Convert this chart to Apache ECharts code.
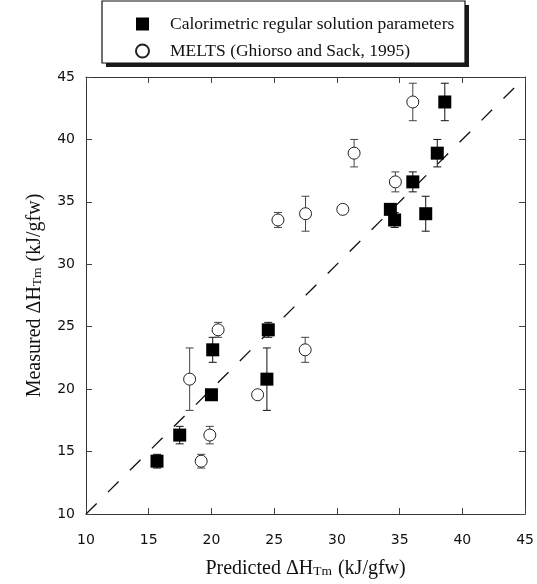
<!DOCTYPE html>
<html>
<head>
<meta charset="utf-8">
<script src="https://cdn.jsdelivr.net/npm/echarts@6/dist/echarts.min.js"></script>
<style>
html,body{margin:0;padding:0;background:#fff;}
#chart{width:537px;height:584px;}
</style>
</head>
<body>
<div id="chart"></div>
<script>
// ---- data ----
var seriesNames = ['Calorimetric regular solution parameters', 'MELTS (Ghiorso and Sack, 1995)'];
// Measured ΔHTm (kJ/gfw), shared by both predictions
var measured = [43.0, 38.9, 36.6, 34.4, 33.55, 34.05, 24.75, 23.15, 20.8, 19.55, 16.32, 14.23];
// Error (±) on measured values; 0 = no bar drawn
var measuredErr = [1.5, 1.1, 0.8, 0, 0.6, 1.4, 0.6, 1.0, 2.5, 0, 0.7, 0.55];
// Predicted ΔHTm, calorimetric regular solution parameters
var predCalorimetric = [38.6, 38.0, 36.05, 34.26, 34.6, 37.08, 24.53, 20.1, 24.42, 20.0, 17.47, 15.66];
// Predicted ΔHTm, MELTS
var predMelts = [36.05, 31.37, 34.66, 30.47, 25.3, 27.5, 20.53, 27.47, 18.26, 23.68, 19.87, 19.18];
// 1:1 line ends
var oneToOne = [10, 45];
// axis ticks
var axisMin = 10, axisMax = 45, axisStep = 5;

function pts(xs) {
  return xs.map(function (x, i) { return [x, measured[i], measuredErr[i]]; });
}

function errBar(color, lw) {
  return function (params, api) {
    var x = api.value(0), y = api.value(1), e = api.value(2);
    if (!e) return;
    var t = api.coord([x, y + e]), b = api.coord([x, y - e]);
    var w = 4;
    var st = { stroke: color, lineWidth: lw };
    return {
      type: 'group',
      children: [
        { type: 'line', shape: { x1: t[0], y1: t[1], x2: b[0], y2: b[1] }, style: st },
        { type: 'line', shape: { x1: t[0] - w, y1: t[1], x2: t[0] + w, y2: t[1] }, style: st },
        { type: 'line', shape: { x1: b[0] - w, y1: b[1], x2: b[0] + w, y2: b[1] }, style: st }
      ]
    };
  };
}

var chart = echarts.init(document.getElementById('chart'), null, { renderer: 'canvas' });

var serif = '"Liberation Serif", "Times New Roman", serif';
var sans = '"DejaVu Sans", Verdana, sans-serif';

function axisBase(pos, showLabel) {
  return {
    type: 'value',
    position: pos,
    min: axisMin, max: axisMax, interval: axisStep,
    axisLine: { show: true, onZero: false, lineStyle: { color: '#333', width: 1 } },
    axisTick: { show: true, inside: true, length: 6, lineStyle: { color: '#444', width: 1 } },
    axisLabel: { show: showLabel, fontFamily: sans, fontSize: 14, color: '#111' },
    splitLine: { show: false }
  };
}

var titleRich = {
  m: { fontFamily: serif, fontSize: 20, color: '#111', verticalAlign: 'bottom', lineHeight: 22 },
  s: { fontFamily: serif, fontSize: 13.5, color: '#111', verticalAlign: 'bottom', lineHeight: 22, padding: [0, 1, 1, 0] }
};

var xBottom = axisBase('bottom', true);
xBottom.name = '{m|Predicted ΔH}{s|Tm}{m| (kJ/gfw)}';
xBottom.nameLocation = 'middle';
xBottom.nameGap = 43;
xBottom.nameTextStyle = { rich: titleRich };
xBottom.axisLabel.margin = 19;
var xTop = axisBase('top', false);

var yLeft = axisBase('left', true);
yLeft.name = '{m|Measured ΔH}{s|Tm}{m| (kJ/gfw)}';
yLeft.nameLocation = 'middle';
yLeft.nameGap = 41;
yLeft.nameTextStyle = { rich: titleRich };
yLeft.axisLabel.margin = 11;
var yRight = axisBase('right', false);

var option = {
  backgroundColor: '#fff',
  animation: false,
  graphic: [
    { type: 'rect', z: 0, shape: { x: 106, y: 5, width: 363, height: 62 }, style: { fill: '#1a1a1a' } },
    { type: 'rect', z: 1, shape: { x: 102, y: 1, width: 363, height: 62 }, style: { fill: '#fff', stroke: '#111', lineWidth: 1.2 } }
  ],
  grid: { left: 86, top: 77, width: 443, height: 441, containLabel: false },
  legend: {
    left: 102, top: 1,
    orient: 'vertical',
    data: seriesNames,
    itemWidth: 13, itemHeight: 13,
    itemGap: 9,
    padding: [14, 8, 6, 33],
    z: 10,
    textStyle: { fontFamily: serif, fontSize: 17.5, color: '#111', padding: [0, 0, 0, 16] }
  },
  xAxis: [xBottom, xTop],
  yAxis: [yLeft, yRight],
  series: [
    {
      type: 'line',
      data: [[oneToOne[0], oneToOne[0]], [oneToOne[1], oneToOne[1]]],
      symbol: 'none',
      lineStyle: { color: '#111', width: 1.3, type: [15, 16] },
      silent: true, z: 1
    },
    {
      type: 'custom', data: pts(predCalorimetric), renderItem: errBar('#111', 1),
      encode: { x: 0, y: 1 }, z: 2, silent: true
    },
    {
      type: 'custom', data: pts(predMelts), renderItem: errBar('#444', 1),
      encode: { x: 0, y: 1 }, z: 2, silent: true
    },
    {
      name: seriesNames[0], type: 'scatter', data: pts(predCalorimetric),
      symbol: 'rect', symbolSize: 13,
      itemStyle: { color: '#000', opacity: 1 }, z: 5
    },
    {
      name: seriesNames[1], type: 'scatter', data: pts(predMelts),
      symbol: 'circle', symbolSize: 12,
      itemStyle: { color: '#fff', borderColor: '#222', borderWidth: 1, opacity: 1 }, z: 5
    }
  ]
};
chart.setOption(option);
</script>
</body>
</html>
